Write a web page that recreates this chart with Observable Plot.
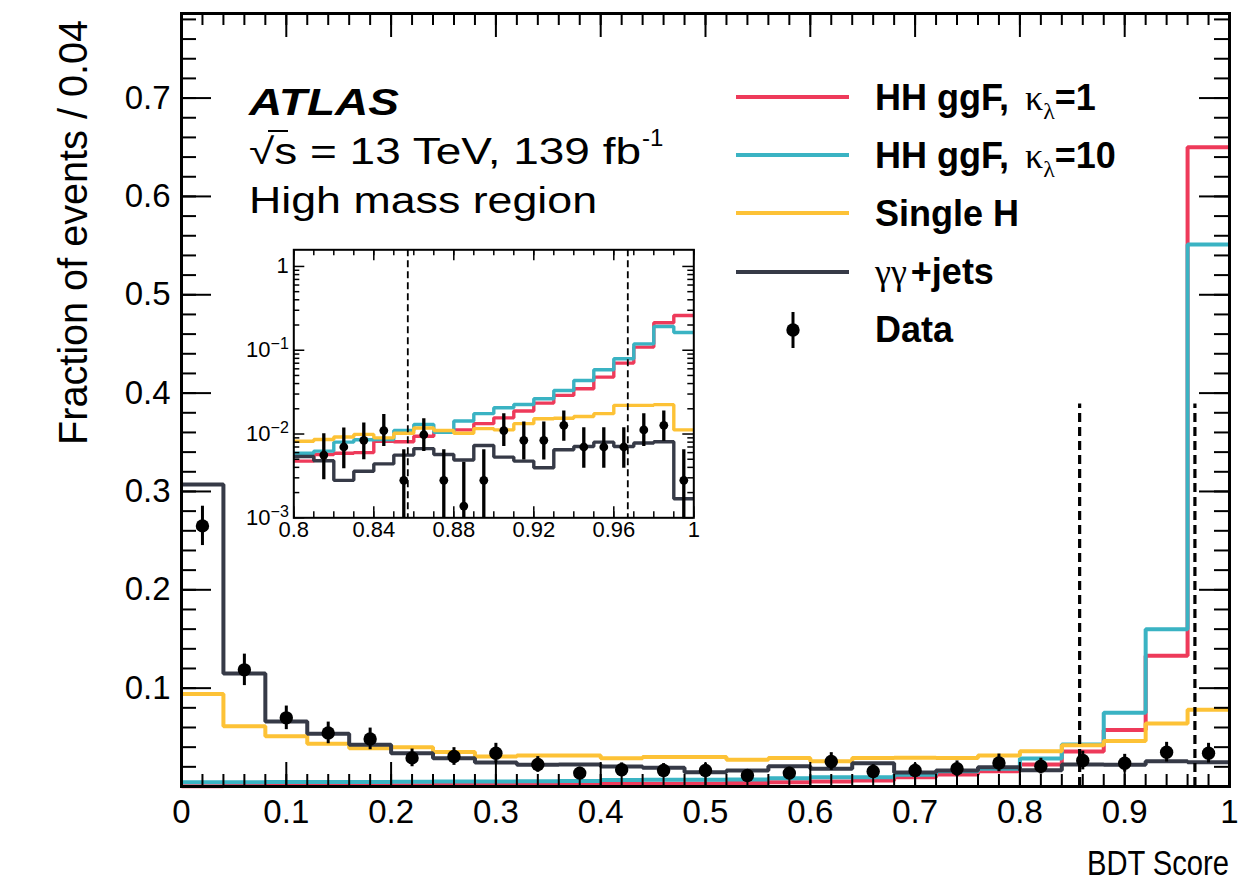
<!DOCTYPE html>
<html><head><meta charset="utf-8">
<script src="https://cdn.jsdelivr.net/npm/d3@7"></script>
<script src="https://cdn.jsdelivr.net/npm/@observablehq/plot@0.6"></script>
<style>
body{margin:0;background:#fff;}
#wrap{position:relative;width:1246px;height:885px;}
#inset{position:absolute;left:230px;top:240px;}
</style></head><body>
<div id="wrap"><div id="main"></div><div id="inset"></div></div>
<script>
// ---------------- DATA (main plot: 25 bins of width 0.04 over BDT score 0..1) ----------------
const binWidth = 0.04;
const hhK1 = [0.0003, 0.0004, 0.0006, 0.0008, 0.001, 0.0012, 0.0014, 0.0017, 0.002, 0.0024, 0.0034, 0.0027, 0.003, 0.0035, 0.0044, 0.005, 0.006, 0.0095, 0.0122, 0.0156, 0.0224, 0.0355, 0.0575, 0.133, 0.65];
const hhK10 = [0.0044, 0.0044, 0.0045, 0.0046, 0.0047, 0.0048, 0.005, 0.0052, 0.0054, 0.0056, 0.0066, 0.0068, 0.0068, 0.007, 0.0085, 0.0095, 0.0095, 0.012, 0.0156, 0.018, 0.0285, 0.0427, 0.0749, 0.16, 0.551];
const singleH = [0.094, 0.0613, 0.0511, 0.0434, 0.039, 0.04, 0.035, 0.0305, 0.0315, 0.0315, 0.0288, 0.0299, 0.0299, 0.0271, 0.029, 0.0257, 0.029, 0.0292, 0.029, 0.0315, 0.0359, 0.042, 0.0463, 0.064, 0.078];
const yyJets = [0.307, 0.115, 0.066, 0.0536, 0.0424, 0.0339, 0.0288, 0.0244, 0.022, 0.0224, 0.0203, 0.019, 0.0145, 0.0163, 0.0207, 0.018, 0.0237, 0.0142, 0.0163, 0.0196, 0.0166, 0.0224, 0.022, 0.0256, 0.0247];
const dataVal = [0.265, 0.1186, 0.0698, 0.0545, 0.0484, 0.0291, 0.0305, 0.0339, 0.0224, 0.0136, 0.017, 0.0163, 0.0163, 0.0112, 0.0136, 0.0254, 0.0152, 0.0163, 0.018, 0.024, 0.0207, 0.0264, 0.0237, 0.0349, 0.0339];
const dataErr = [0.02, 0.016, 0.012, 0.011, 0.011, 0.009, 0.009, 0.01, 0.008, 0.006, 0.007, 0.007, 0.007, 0.006, 0.006, 0.009, 0.007, 0.007, 0.008, 0.009, 0.008, 0.0095, 0.009, 0.01, 0.01];
const cutValues = [0.857, 0.967];
const cutLineTop = 0.389;

// ---------------- DATA (inset: 20 bins of width 0.01 over 0.8..1, log y) ----------------
const insetStart = 0.8, insetBinWidth = 0.01;
const inHhK1 = [0.00475, 0.0057, 0.0059, 0.006, 0.0082, 0.0081, 0.0094, 0.0105, 0.0112, 0.0133, 0.0156, 0.0188, 0.0234, 0.0289, 0.0347, 0.0478, 0.0702, 0.109, 0.213, 0.26];
const inHhK10 = [0.0059, 0.00625, 0.008, 0.00855, 0.0086, 0.011, 0.013, 0.0105, 0.0143, 0.0175, 0.0206, 0.0225, 0.0264, 0.0331, 0.0436, 0.0585, 0.079, 0.119, 0.192, 0.163];
const inSingleH = [0.0082, 0.0086, 0.0092, 0.0099, 0.009, 0.0102, 0.0118, 0.011, 0.0102, 0.0116, 0.0112, 0.0133, 0.0152, 0.0154, 0.0162, 0.0175, 0.022, 0.022, 0.0224, 0.0112];
const inYyJets = [0.0054, 0.0048, 0.0028, 0.0036, 0.0044, 0.0056, 0.0067, 0.0057, 0.0049, 0.0073, 0.0053, 0.00475, 0.00396, 0.0065, 0.0071, 0.008, 0.0071, 0.0078, 0.0081, 0.00169];
const inData = [null, 0.0056, 0.007, 0.0084, 0.011, 0.0028, 0.0098, 0.0028, 0.00138, 0.0028, 0.011, 0.0084, 0.0084, 0.0127, 0.007, 0.007, 0.007, 0.0112, 0.0127, 0.0028];
const inDataLo = [null, 0.00285, 0.00385, 0.00493, 0.0071, 0, 0.0062, 0, 0, 0, 0.0071, 0.0049, 0.0049, 0.0082, 0.0039, 0.0039, 0.0039, 0.0071, 0.0082, 0];
const inDataHi = [null, 0.0101, 0.0118, 0.0135, 0.0171, 0.0065, 0.0152, 0.0065, 0.0046, 0.0065, 0.0175, 0.0139, 0.0139, 0.0188, 0.0119, 0.0119, 0.0119, 0.0175, 0.0188, 0.0065];

// ---------------- ticks / labels ----------------
const xMajorTicks = [0, 0.1, 0.2, 0.3, 0.4, 0.5, 0.6, 0.7, 0.8, 0.9, 1];
const xMinorTicks = d3.range(0, 51).map(i => i * 0.02).filter(v => v <= 1.0001);
const yMajorTicks = [0.1, 0.2, 0.3, 0.4, 0.5, 0.6, 0.7];
const yMinorTicks = d3.range(1, 40).map(i => i * 0.02);
const yTop = 0.786;
const insetXMajor = [0.8, 0.84, 0.88, 0.92, 0.96, 1];
const insetXMinor = d3.range(0, 21).map(i => 0.8 + i * 0.01);
const insetYMajor = [0.001, 0.01, 0.1, 1];
const insetYMinor = [0.001, 0.01, 0.1].flatMap(d => d3.range(2, 10).map(k => k * d));
const insetYTop = 1.58;

const series = [
  {name: "HH ggF k1", main: hhK1, inset: inHhK1, color: "#EE3A5A"},
  {name: "HH ggF k10", main: hhK10, inset: inHhK10, color: "#3AB3C3"},
  {name: "Single H", main: singleH, inset: inSingleH, color: "#FDC236"},
  {name: "yy+jets", main: yyJets, inset: inYyJets, color: "#363A47"}
];

function stepRows(vals, x0, w) {
  const rows = vals.map((v, i) => ({x: x0 + i * w, y: v}));
  rows.push({x: x0 + vals.length * w, y: vals[vals.length - 1]});
  return rows;
}

const FONT = "'Liberation Sans', Arial, Helvetica, sans-serif";
const W = 1246, H = 885, mL = 181, mR = 17, mT = 13, mB = 99;
const innerW = W - mL - mR, innerH = H - mT - mB;

const dataRows = dataVal.map((v, i) => ({x: (i + 0.5) * binWidth, y: v, e: dataErr[i]}));

const mainPlot = Plot.plot({
  width: W, height: H,
  marginLeft: mL, marginRight: mR, marginTop: mT, marginBottom: mB,
  x: {domain: [0, 1], label: null},
  y: {domain: [0, yTop], label: null},
  style: {fontFamily: FONT, fontSize: "33px", color: "black", background: "white"},
  marks: [
    ...series.map(s => Plot.line(stepRows(s.main, 0, binWidth), {
      x: "x", y: "y", curve: "step-after", stroke: s.color, strokeWidth: 4,
      strokeLinejoin: "miter", strokeLinecap: "butt"
    })),
    Plot.ruleX(cutValues, {x: d => d, y1: 0, y2: cutLineTop, stroke: "black", strokeWidth: 3.2, strokeDasharray: "9,5"}),
    Plot.ruleX(dataRows, {x: "x", y1: d => d.y - d.e, y2: d => d.y + d.e, stroke: "black", strokeWidth: 3}),
    Plot.dot(dataRows, {x: "x", y: "y", r: 6.7, fill: "black", stroke: null}),
    // inward ticks, all four sides
    Plot.tickX(xMinorTicks, {x: d => d, insetTop: innerH - 12, strokeWidth: 2}),
    Plot.tickX(xMajorTicks, {x: d => d, insetTop: innerH - 24, strokeWidth: 2}),
    Plot.tickX(xMinorTicks, {x: d => d, insetBottom: innerH - 12, strokeWidth: 2}),
    Plot.tickX(xMajorTicks, {x: d => d, insetBottom: innerH - 24, strokeWidth: 2}),
    Plot.tickY(yMinorTicks, {y: d => d, insetRight: innerW - 15, strokeWidth: 2}),
    Plot.tickY(yMajorTicks, {y: d => d, insetRight: innerW - 30, strokeWidth: 2}),
    Plot.tickY(yMinorTicks, {y: d => d, insetLeft: innerW - 15, strokeWidth: 2}),
    Plot.tickY(yMajorTicks, {y: d => d, insetLeft: innerW - 30, strokeWidth: 2}),
    Plot.frame({stroke: "black", strokeWidth: 3}),
    Plot.axisX({ticks: xMajorTicks, tickSize: 0, tickPadding: 13, tickFormat: d3.format("~g"), label: null, fontSize: 33}),
    Plot.axisY({ticks: yMajorTicks, tickSize: 0, tickPadding: 11, tickFormat: d3.format("~g"), label: null, fontSize: 33})
  ]
});
document.getElementById("main").appendChild(mainPlot);

// ---------------- annotations, titles, legend ----------------
const svg = d3.select(mainPlot);
const g = svg.append("g").attr("font-family", FONT).attr("fill", "black").attr("text-anchor", "start");

g.append("text").attr("transform", "translate(1229,875) scale(0.81,1)").attr("text-anchor", "end")
  .attr("font-size", 36).text("BDT Score");
g.append("text").attr("transform", "translate(87,445) rotate(-90)").attr("font-size", 40)
  .attr("textLength", 425).attr("lengthAdjust", "spacingAndGlyphs").text("Fraction of events / 0.04");

g.append("text").attr("x", 249).attr("y", 115).attr("font-size", 37).attr("font-weight", "bold")
  .attr("font-style", "italic").attr("textLength", 150).attr("lengthAdjust", "spacingAndGlyphs").text("ATLAS");
g.append("text").attr("x", 249).attr("y", 164).attr("font-size", 36)
  .attr("textLength", 392).attr("lengthAdjust", "spacingAndGlyphs").text("\u221As = 13 TeV, 139 fb");
g.append("line").attr("x1", 268).attr("x2", 288).attr("y1", 131).attr("y2", 131).attr("stroke", "black").attr("stroke-width", 2);
g.append("text").attr("x", 642).attr("y", 146).attr("font-size", 24).text("-1");
g.append("text").attr("x", 249).attr("y", 213).attr("font-size", 36)
  .attr("textLength", 348).attr("lengthAdjust", "spacingAndGlyphs").text("High mass region");

// legend
const legY = [97, 155, 213, 272];
const legTextY = [110, 168, 226, 284];
series.forEach((s, i) => {
  g.append("line").attr("x1", 736).attr("x2", 849).attr("y1", legY[i]).attr("y2", legY[i])
    .attr("stroke", s.color).attr("stroke-width", 4);
});
function kappaLabel(y, val) {
  const t = g.append("text").attr("x", 875).attr("y", y).attr("font-size", 36).attr("font-weight", "bold");
  t.append("tspan").text("HH ggF, ");
  t.append("tspan").attr("font-family", "'Liberation Serif', serif").attr("font-weight", "normal").attr("dx", 6).text("\u03BA");
  t.append("tspan").attr("font-family", "'Liberation Serif', serif").attr("font-weight", "normal").attr("font-size", 24).attr("dy", 9).text("\u03BB");
  t.append("tspan").attr("dy", -9).text("=" + val);
}
kappaLabel(legTextY[0], "1");
kappaLabel(legTextY[1], "10");
g.append("text").attr("x", 875).attr("y", legTextY[2]).attr("font-size", 36).attr("font-weight", "bold").text("Single H");
{
  const t = g.append("text").attr("x", 875).attr("y", legTextY[3]).attr("font-size", 36).attr("font-weight", "bold");
  t.append("tspan").attr("font-family", "'Liberation Serif', serif").attr("font-weight", "normal").text("\u03B3\u03B3");
  t.append("tspan").attr("dx", 4).text("+jets");
}
g.append("line").attr("x1", 793).attr("x2", 793).attr("y1", 312).attr("y2", 348).attr("stroke", "black").attr("stroke-width", 3);
g.append("circle").attr("cx", 793).attr("cy", 330).attr("r", 6.7).attr("fill", "black");
g.append("text").attr("x", 875).attr("y", 342).attr("font-size", 36).attr("font-weight", "bold").text("Data");

// ---------------- INSET ----------------
const iW = 480, iH = 320, imL = 63.3, imR = 16.7, imT = 9.3, imB = 42.7;
const iInnerW = iW - imL - imR, iInnerH = iH - imT - imB;
const inRows = inData.map((v, i) => ({x: insetStart + (i + 0.5) * insetBinWidth, y: v,
  lo: Math.max(inDataLo[i] || 0, 0.001), hi: inDataHi[i]})).filter(d => d.y != null);

const insetPlot = Plot.plot({
  width: iW, height: iH, marginLeft: imL, marginRight: imR, marginTop: imT, marginBottom: imB,
  x: {domain: [0.8, 1], label: null},
  y: {type: "log", domain: [0.001, insetYTop], label: null},
  style: {fontFamily: FONT, fontSize: "22px", color: "black", background: "transparent", overflow: "visible"},
  marks: [
    Plot.frame({fill: "white", stroke: null}),
    ...series.map(s => Plot.line(stepRows(s.inset, insetStart, insetBinWidth), {
      x: "x", y: "y", curve: "step-after", stroke: s.color, strokeWidth: 3.4,
      strokeLinejoin: "miter", strokeLinecap: "butt", clip: true
    })),
    Plot.ruleX(cutValues, {x: d => d, stroke: "black", strokeWidth: 1.8, strokeDasharray: "7,4"}),
    Plot.ruleX(inRows, {x: "x", y1: "lo", y2: "hi", stroke: "black", strokeWidth: 3.3, clip: true}),
    Plot.dot(inRows, {x: "x", y: "y", r: 4.4, fill: "black", stroke: null}),
    Plot.tickX(insetXMinor, {x: d => d, insetTop: iInnerH - 6, strokeWidth: 1.5}),
    Plot.tickX(insetXMajor, {x: d => d, insetTop: iInnerH - 11, strokeWidth: 1.5}),
    Plot.tickX(insetXMinor, {x: d => d, insetBottom: iInnerH - 6, strokeWidth: 1.5}),
    Plot.tickX(insetXMajor, {x: d => d, insetBottom: iInnerH - 11, strokeWidth: 1.5}),
    Plot.tickY(insetYMinor, {y: d => d, insetRight: iInnerW - 6, strokeWidth: 1.5}),
    Plot.tickY(insetYMajor, {y: d => d, insetRight: iInnerW - 11, strokeWidth: 1.5}),
    Plot.tickY(insetYMinor, {y: d => d, insetLeft: iInnerW - 6, strokeWidth: 1.5}),
    Plot.tickY(insetYMajor, {y: d => d, insetLeft: iInnerW - 11, strokeWidth: 1.5}),
    Plot.frame({stroke: "black", strokeWidth: 2}),
    Plot.axisX({ticks: insetXMajor, tickSize: 0, tickPadding: 4, tickFormat: d3.format("~g"), label: null, fontSize: 22}),
    Plot.axisY({ticks: insetYMajor, tickSize: 0, tickPadding: 5, label: null, fontSize: 22,
      tickFormat: d => d === 1 ? "1" : "10^" + Math.round(Math.log10(d))})
  ]
});
document.getElementById("inset").appendChild(insetPlot);
d3.select(insetPlot).selectAll('g[aria-label="y-axis tick label"] text').each(function() {
  const t = this.textContent;
  if (t.startsWith("10^")) {
    const exp = t.slice(3).replace("-", "\u2212");
    const sel = d3.select(this);
    sel.text("");
    sel.append("tspan").text("10");
    sel.append("tspan").attr("dy", "-0.5em").attr("font-size", "16px").text(exp);
  }
});
</script>
</body></html>
